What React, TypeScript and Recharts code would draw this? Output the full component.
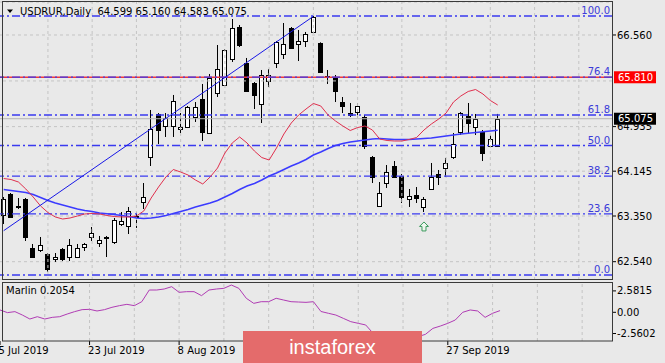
import React from "react";
import {
  ComposedChart,
  Bar,
  Line,
  XAxis,
  YAxis,
  CartesianGrid,
  ReferenceLine,
  ReferenceDot,
} from "recharts";

// USDRUR daily bars, 5 Jul 2019 .. 8 Oct 2019
const opens = [
  63.368, 63.74, 63.528, 63.652, 62.783, 62.747, 62.677, 62.588, 62.765, 62.623,
  62.623, 62.801, 62.978, 62.872, 62.975, 62.889, 63.208, 63.173, 63.333, 63.598,
  64.396, 65.159, 64.946, 64.946, 64.893, 64.928, 65.105, 65.425, 64.822, 65.531,
  65.673, 66.134, 66.701, 66.063, 65.708, 65.336, 65.744, 66.063, 66.222, 66.683,
  66.4, 66.453, 66.613, 66.418, 65.832, 65.815, 65.371, 65.176, 65.194, 65.105,
  64.396, 63.528, 63.935, 64.237, 64.059, 63.652, 63.723, 63.51, 63.829, 64.095,
  64.201, 64.396, 64.84, 65.123, 64.928, 64.84, 64.591, 64.599,
];
const highs = [
  63.687, 63.758, 63.669, 63.669, 62.854, 62.978, 62.694, 62.694, 62.783, 62.942,
  62.854, 62.872, 63.155, 62.996, 62.996, 63.315, 63.421, 63.51, 63.421, 63.935,
  65.23, 65.176, 65.176, 65.496, 65.176, 65.301, 65.371, 65.691, 65.868, 66.382,
  66.311, 66.843, 66.737, 66.152, 65.726, 65.939, 65.957, 66.453, 66.772, 66.701,
  66.648, 66.613, 66.896, 66.43, 65.939, 65.85, 65.46, 65.354, 65.354, 65.141,
  64.414, 63.953, 64.254, 64.325, 64.095, 63.829, 63.864, 63.687, 64.29, 64.166,
  64.379, 64.822, 65.194, 65.354, 65.159, 64.875, 64.786, 65.16,
];
const lows = [
  63.208, 63.315, 63.474, 62.907, 62.606, 62.712, 62.357, 62.535, 62.552, 62.552,
  62.606, 62.73, 62.907, 62.801, 62.623, 62.854, 63.173, 63.031, 63.138, 63.474,
  64.237, 64.627, 64.751, 64.751, 64.822, 64.91, 65.017, 64.68, 64.822, 65.46,
  65.655, 66.081, 66.347, 65.549, 65.247, 64.999, 65.637, 65.974, 66.134, 66.311,
  66.098, 66.347, 66.613, 65.886, 65.691, 65.371, 65.176, 65.105, 65.088, 64.538,
  63.935, 63.51, 63.847, 64.03, 63.581, 63.51, 63.581, 63.421, 63.811, 63.9,
  64.042, 64.361, 64.786, 64.822, 64.786, 64.325, 64.574, 64.583,
];
const closes = [
  63.652, 63.333, 63.51, 62.978, 62.623, 62.836, 62.411, 62.623, 62.588, 62.836,
  62.783, 62.854, 63.049, 62.925, 62.985, 63.279, 63.267, 63.439, 63.35, 63.687,
  64.893, 64.875, 65.088, 65.389, 64.928, 65.283, 65.283, 64.84, 65.797, 65.957,
  66.293, 66.683, 66.382, 65.566, 65.496, 65.85, 65.85, 66.435, 66.4, 66.329,
  66.453, 66.577, 66.879, 65.903, 65.823, 65.566, 65.301, 65.141, 65.301, 64.591,
  64.042, 63.758, 64.13, 64.042, 63.687, 63.705, 63.669, 63.652, 64.042, 64.042,
  64.29, 64.627, 65.176, 64.999, 65.07, 64.467, 64.715, 65.075,
];

// moving averages
const redMa = [
  64.015, 63.997, 63.953, 63.829, 63.687, 63.528, 63.412, 63.333, 63.297, 63.315,
  63.35, 63.386, 63.395, 63.386, 63.359, 63.341, 63.333, 63.333, 63.35, 63.439,
  63.669, 63.864, 64.042, 64.175, 64.13, 64.077, 63.989, 63.918, 64.042, 64.201,
  64.467, 64.645, 64.751, 64.645, 64.503, 64.387, 64.343, 64.556, 64.804, 64.999,
  65.141, 65.247, 65.345, 65.301, 65.141, 65.035, 64.946, 64.866, 64.919, 64.946,
  64.875, 64.715, 64.689, 64.68, 64.68, 64.707, 64.742, 64.875, 64.981, 65.07,
  65.176, 65.371, 65.478, 65.558, 65.593, 65.513, 65.398, 65.318,
];
const blueMa = [
  63.82, 63.802, 63.785, 63.767, 63.731, 63.678, 63.625, 63.581, 63.545, 63.51,
  63.474, 63.448, 63.43, 63.403, 63.389, 63.377, 63.359, 63.341, 63.315, 63.306,
  63.315, 63.333, 63.359, 63.395, 63.43, 63.466, 63.51, 63.545, 63.581, 63.625,
  63.687, 63.749, 63.82, 63.882, 63.927, 63.989, 64.059, 64.113, 64.175, 64.237,
  64.29, 64.352, 64.432, 64.485, 64.547, 64.6, 64.636, 64.662, 64.68, 64.698,
  64.715, 64.724, 64.715, 64.707, 64.707, 64.707, 64.715, 64.724, 64.733, 64.751,
  64.769, 64.786, 64.804, 64.817, 64.831, 64.843, 64.857, 64.87,
];

// Marlin oscillator
const marlin = [
  0.28, -0.04, 0.08, -0.33, -0.81, -0.53, -0.81, -0.61, -0.53, -0.21,
  0.08, 0.32, 0.36, 0.16, 0.32, 0.6, 0.8, 0.96, 0.8, 1.28,
  2.69, 2.69, 2.81, 3.09, 2.41, 2.49, 2.49, 2.01, 2.69, 2.81,
  2.89, 3.29, 2.89, 1.69, 1.08, 1.28, 1.28, 1.69, 1.48, 1.28,
  1.24, 1.2, 1.28, 0.1, -0.12, -0.33, -0.73, -1.13, -1.33, -1.53,
  -2.54, -2.82, -2.94, -3.06, -3.14, -3.06, -2.94, -2.66, -1.94, -1.66,
  -1.33, -0.93, 0.0, 0.28, 0.16, -0.61, -0.12, 0.2054,
];

// trend line and signal arrow
const trendBars = [0, 42];
const trendPrices = [63.09, 66.89];
const arrowBar = 57;
const arrowPrice = 63.165;

// fibonacci grid
const fibLow = 62.304;
const fibHigh = 66.896;
const fibLevels = [0, 23.6, 38.2, 50, 61.8, 76.4, 100];
const redLevel = 65.81;

// axes
const priceTicks = [62.54, 63.35, 64.145, 64.935, 66.56];
const hiddenGridPrice = 65.745; // its label sits under the red price box
const marlinTicks = [2.5815, 0, -2.5602];
const dateBars = [0, 12, 24, 60]; // the Aug/Sep labels in between are under the logo
const dateLabels = ["5 Jul 2019", "23 Jul 2019", "8 Aug 2019", "27 Sep 2019"];
const gridBars = [6, 12, 18, 24, 30, 36, 42, 48, 54, 60, 66, 72, 78];

const SLOTS = 83; // bar slots across the window, empty ones on the right
const FONT = "'DejaVu Sans', sans-serif";
const PRICE_DOMAIN = [62.2155, 67.1446];
const last = opens.length - 1;

const rows = Array.from({ length: SLOTS }, (_, i) => {
  const has = i < opens.length;
  const t = trendBars.indexOf(i);
  return {
    i,
    o: has ? opens[i] : null,
    h: has ? highs[i] : null,
    l: has ? lows[i] : null,
    c: has ? closes[i] : null,
    range: has ? [lows[i], highs[i]] : null,
    red: has ? redMa[i] : null,
    blue: has ? blueMa[i] : null,
    marlin: has ? marlin[i] : null,
    trend: t >= 0 ? trendPrices[t] : null,
  };
});

const Candle = (props: any) => {
  const { x, y, width, height, payload } = props;
  if (payload == null || payload.h == null || !height) return null;
  const span = payload.h - payload.l;
  const toPx = (p: number) => y + ((payload.h - p) / span) * height;
  const cx = Math.floor(x + width / 2) + 0.5;
  const up = payload.c >= payload.o;
  const top = Math.round(toPx(Math.max(payload.o, payload.c)));
  const bot = Math.round(toPx(Math.min(payload.o, payload.c)));
  return (
    <g>
      <line x1={cx} x2={cx} y1={y} y2={y + height} stroke="#000" strokeWidth={1} />
      <rect
        x={cx - 2}
        y={top + 0.5}
        width={4}
        height={Math.max(bot - top, 1)}
        fill={up ? "#fff" : "#000"}
        stroke="#000"
        strokeWidth={1}
      />
    </g>
  );
};

const fibLabel = (text: string) => (props: any) => {
  const vb = props.viewBox || {};
  return (
    <text x={vb.x + vb.width - 2} y={vb.y - 2} textAnchor="end" fontSize={10} fontFamily={FONT} fill="#3b3bd8">
      {text}
    </text>
  );
};

const priceBox = (text: string, bg: string) => (props: any) => {
  const vb = props.viewBox || {};
  const x = vb.x + vb.width + 2;
  return (
    <g>
      <rect x={x} y={vb.y - 6} width={42} height={12} fill={bg} />
      <text x={x + 4} y={vb.y} dy="0.35em" fontSize={10} fontFamily={FONT} fill="#fff">
        {text}
      </text>
    </g>
  );
};

const UpArrow = (props: any) => {
  const { cx, cy } = props;
  const pts = [
    [cx, cy - 4.5],
    [cx + 4.5, cy],
    [cx + 2, cy],
    [cx + 2, cy + 4.5],
    [cx - 2, cy + 4.5],
    [cx - 2, cy],
    [cx - 4.5, cy],
  ]
    .map((p) => p.join(","))
    .join(" ");
  return <polygon points={pts} fill="#eef6ee" stroke="#3a9a5c" strokeWidth={1} />;
};

const DateTick = (props: any) => {
  const { x, y, payload } = props;
  const k = dateBars.indexOf(payload.value);
  if (k < 0) return <g />;
  return (
    <text x={x - 1.5} y={y} dy="0.71em" textAnchor="start" fontSize={10} fontFamily={FONT} fill="#000">
      {dateLabels[k]}
    </text>
  );
};

const axisTick = { fontSize: 10, fontFamily: FONT, fill: "#000" };

export default function App() {
  return (
    <div style={{ position: "relative", width: 665, height: 363, overflow: "hidden", background: "#e9e9e9" }}>
      <style>{`body{margin:0}`}</style>

      <div style={{ position: "absolute", left: 0, top: 0 }}>
        <ComposedChart width={665} height={280} data={rows} margin={{ top: 2, right: 0, bottom: 0, left: 0 }}>
          <CartesianGrid vertical={false} stroke="#c4c4c4" strokeDasharray="3 3" />
          <XAxis dataKey="i" hide />
          <YAxis
            orientation="right"
            width={53}
            domain={PRICE_DOMAIN}
            allowDataOverflow
            ticks={priceTicks}
            interval={0}
            tickFormatter={(v: number) => v.toFixed(3)}
            tick={axisTick}
            tickSize={4}
            tickMargin={1}
            axisLine={false}
            tickLine={{ stroke: "#000" }}
          />
          <ReferenceLine y={hiddenGridPrice} stroke="#c4c4c4" strokeDasharray="3 3" />
          {gridBars.map((b) => (
            <ReferenceLine key={"g" + b} x={b} stroke="#c4c4c4" strokeDasharray="3 3" />
          ))}
          <ReferenceLine y={closes[last]} stroke="#b4b4b4" />
          <ReferenceLine y={redLevel} stroke="#f03a3a" strokeWidth={1.6} />
          {fibLevels.map((lv) => (
            <ReferenceLine
              key={"f" + lv}
              y={fibLow + ((fibHigh - fibLow) * lv) / 100}
              stroke="#3a3af0"
              strokeWidth={1.4}
              strokeDasharray="8 3 2 3"
              label={fibLabel(lv.toFixed(1))}
            />
          ))}
          <Bar dataKey="range" barSize={5} shape={Candle} isAnimationActive={false} />
          <Line dataKey="blue" stroke="#3b3bff" strokeWidth={1.5} dot={false} isAnimationActive={false} />
          <Line dataKey="red" stroke="#e0304e" strokeWidth={1} dot={false} isAnimationActive={false} />
          <Line dataKey="trend" stroke="#1818e6" strokeWidth={1} dot={false} connectNulls isAnimationActive={false} />
          <ReferenceDot x={arrowBar} y={arrowPrice} shape={UpArrow} />
        </ComposedChart>
      </div>

      {/* price boxes on the scale, drawn above the tick labels */}
      <div style={{ position: "absolute", left: 0, top: 0 }}>
        <ComposedChart width={665} height={280} data={rows} margin={{ top: 2, right: 0, bottom: 0, left: 0 }}>
          <XAxis dataKey="i" hide />
          <YAxis
            orientation="right"
            width={53}
            domain={PRICE_DOMAIN}
            allowDataOverflow
            tick={false}
            tickLine={false}
            axisLine={false}
          />
          <ReferenceLine y={closes[last]} stroke="none" label={priceBox(closes[last].toFixed(3), "#000")} />
          <ReferenceLine y={redLevel} stroke="none" label={priceBox(redLevel.toFixed(3), "#ff0000")} />
        </ComposedChart>
      </div>

      <div style={{ position: "absolute", left: 0, top: 279 }}>
        <ComposedChart width={665} height={84} data={rows} margin={{ top: 3, right: 0, bottom: 0, left: 0 }}>
          <XAxis
            dataKey="i"
            ticks={dateBars}
            interval={0}
            height={22}
            tick={DateTick}
            tickSize={4}
            tickMargin={2}
            axisLine={false}
            tickLine={{ stroke: "#000" }}
          />
          <YAxis
            orientation="right"
            width={53}
            domain={[-3.462, 3.655]}
            allowDataOverflow
            ticks={marlinTicks}
            interval={0}
            tickFormatter={(v: number) => (v === 0 ? "0.00" : v.toFixed(4))}
            tick={axisTick}
            tickSize={4}
            tickMargin={1}
            axisLine={false}
            tickLine={{ stroke: "#000" }}
          />
          {gridBars.map((b) => (
            <ReferenceLine key={"m" + b} x={b} stroke="#c4c4c4" strokeDasharray="3 3" />
          ))}
          <Line dataKey="marlin" stroke="#b03cb4" strokeWidth={1} dot={false} isAnimationActive={false} />
        </ComposedChart>
      </div>

      <svg width={665} height={363} style={{ position: "absolute", left: 0, top: 0, pointerEvents: "none" }}>
        <rect x={2.5} y={1.5} width={610} height={278} fill="none" stroke="#3a3a3a" />
        <rect x={2.5} y={282.5} width={610} height={58.5} fill="none" stroke="#3a3a3a" />
        <polygon points="7,9.5 13,9.5 10,13" fill="#000" />
      </svg>

      <div
        style={{
          position: "absolute",
          left: 20,
          top: 5.5,
          font: `10px ${FONT}`,
          lineHeight: "12px",
          whiteSpace: "pre",
          color: "#000",
        }}
      >
        {`USDRUR,Daily  ${opens[last].toFixed(3)} ${highs[last].toFixed(3)} ${lows[last].toFixed(3)} ${closes[last].toFixed(3)}`}
      </div>
      <div
        style={{
          position: "absolute",
          left: 6,
          top: 285,
          font: `10px ${FONT}`,
          lineHeight: "12px",
          whiteSpace: "pre",
          color: "#000",
        }}
      >
        {`Marlin ${marlin[last].toFixed(4)}`}
      </div>

      <div
        style={{
          position: "absolute",
          left: 243,
          top: 331,
          width: 179,
          height: 32,
          background: "#e46b6b",
          color: "#fff",
          font: "20px 'Liberation Sans', Arial, sans-serif",
          lineHeight: "32px",
          textAlign: "center",
        }}
      >
        instaforex
      </div>
    </div>
  );
}
